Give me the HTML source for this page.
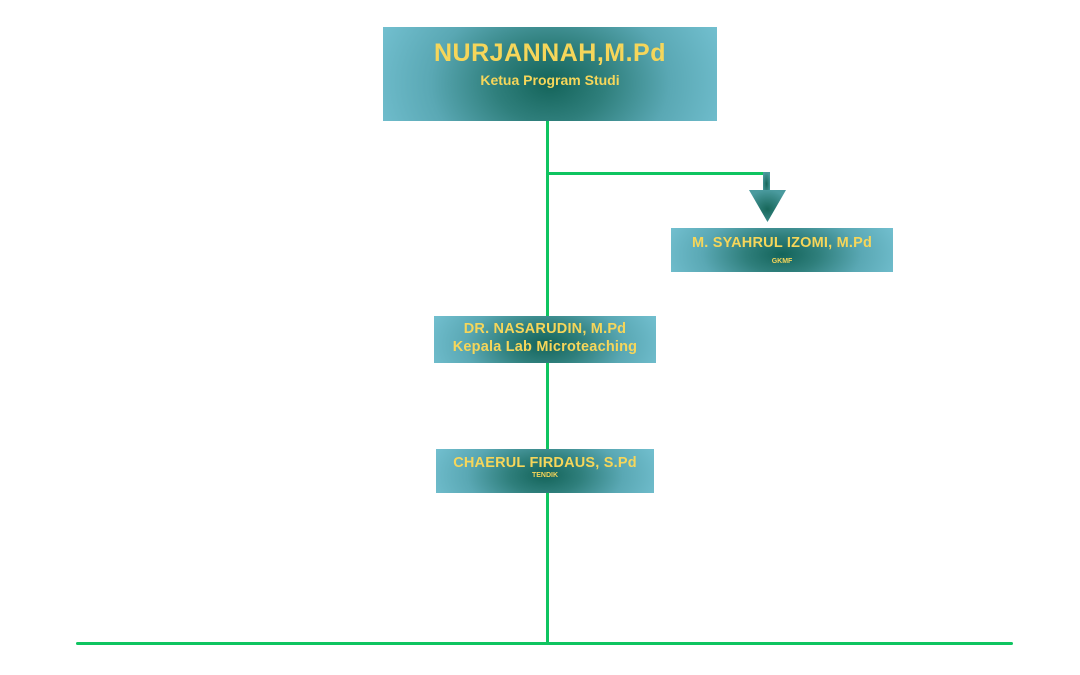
<!DOCTYPE html>
<html><head><meta charset="utf-8"><style>
body{margin:0;width:1080px;height:675px;background:#fff;position:relative;overflow:hidden;font-family:"Liberation Sans",sans-serif}
.b{position:absolute;background:radial-gradient(ellipse 55% 140% at 50% 60%,#14645a 0%,#2f7f7c 30%,#5aa8b4 65%,#72bfcf 100%);color:#f6d65a;font-weight:bold;text-align:center;box-sizing:border-box}
.l{position:absolute;background:#0fc460}
</style></head><body>
<div class="l" style="left:546px;top:121px;width:3px;height:522px"></div>
<div class="l" style="left:546px;top:172px;width:218px;height:3px"></div>
<div class="l" style="left:76px;top:642px;width:937px;height:3px;border-radius:2px"></div>
<div class="b" style="left:383px;top:27px;width:334px;height:94px">
<div style="font-size:25px;margin-top:12px;letter-spacing:0.5px">NURJANNAH,M.Pd</div>
<div style="font-size:14px;margin-top:4px">Ketua Program Studi</div></div>
<svg style="position:absolute;left:748px;top:172px" width="40" height="52"><defs><radialGradient id="g" cx="50%" cy="60%" r="60%"><stop offset="0" stop-color="#17675a"/><stop offset="1" stop-color="#4a9a9e"/></radialGradient></defs><rect x="15" y="0" width="7" height="20" fill="url(#g)"/><polygon points="1,18 38,18 19.5,50" fill="url(#g)"/></svg>
<div class="b" style="left:671px;top:228px;width:222px;height:44px">
<div style="font-size:14.5px;margin-top:7px;letter-spacing:0.2px">M. SYAHRUL IZOMI, M.Pd</div>
<div style="font-size:7px;margin-top:7px">GKMF</div></div>
<div class="b" style="left:434px;top:316px;width:222px;height:47px">
<div style="font-size:14.5px;margin-top:5px;letter-spacing:0.2px">DR. NASARUDIN, M.Pd</div>
<div style="font-size:14.5px;margin-top:2px;letter-spacing:0.2px">Kepala Lab Microteaching</div></div>
<div class="b" style="left:436px;top:449px;width:218px;height:44px">
<div style="font-size:14.5px;margin-top:6px;letter-spacing:0.2px">CHAERUL FIRDAUS, S.Pd</div>
<div style="font-size:7px;margin-top:1px">TENDIK</div></div>
</body></html>
